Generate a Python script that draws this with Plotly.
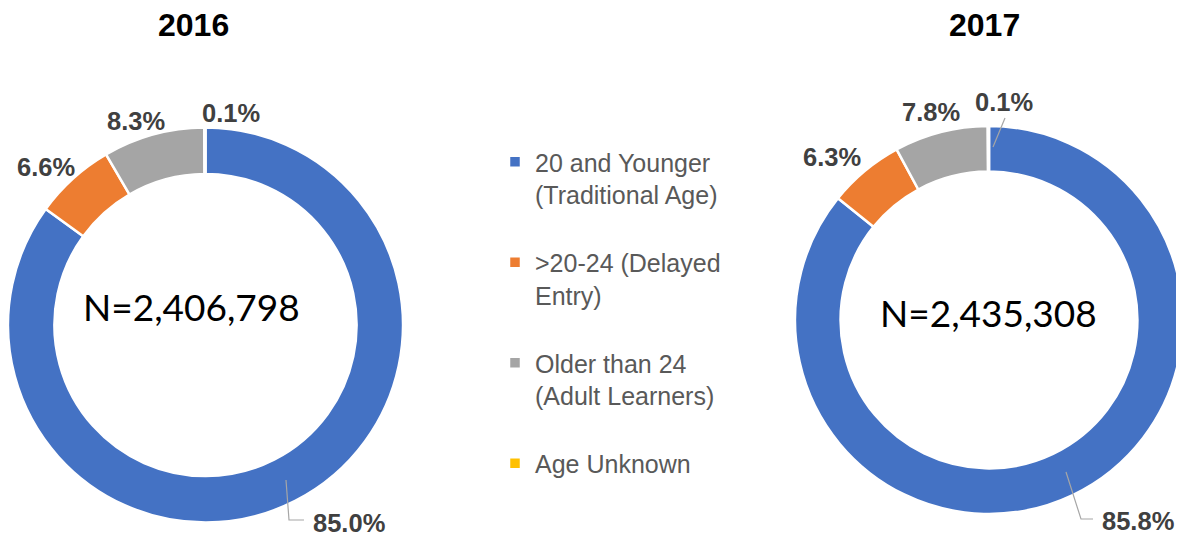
import plotly.graph_objects as go

# ---- data ----
categories = ["20 and Younger<br>(Traditional Age)", ">20-24 (Delayed<br>Entry)",
              "Older than 24<br>(Adult Learners)", "Age Unknown"]
values_2016 = [85.0, 6.6, 8.3, 0.1]
values_2017 = [85.8, 6.3, 7.8, 0.1]
years = ["2016", "2017"]
totals = ["N=2,406,798", "N=2,435,308"]
colors = ["#4472C4", "#ED7D31", "#A5A5A5", "#FFC000"]

# page is 1184x537; the html body adds an 8px margin, so the figure is smaller
O = 8
W, H = 1184 - O, 537 - O

def px(x):
    return min(max((x - O) / W, 0), 1)

def py(y):
    return min(max(1 - (y - O) / H, 0), 1)

# pie geometry (page pixels): center x, center y, radius
geo = [(205, 325, 198), (989, 320, 194)]

legend_names = [c + "<br> " if i < len(categories) - 1 else c for i, c in enumerate(categories)]

fig = go.Figure()
for k, (vals, (cx, cy, r)) in enumerate(zip([values_2016, values_2017], geo)):
    fig.add_trace(go.Pie(
        labels=legend_names, values=vals, sort=False, direction="clockwise", rotation=0,
        hole=0.765, textinfo="none", hoverinfo="label+percent",
        marker=dict(colors=colors, line=dict(color="white", width=2.5)),
        domain=dict(x=[px(cx - r), px(cx + r)], y=[py(cy + r), py(cy - r)]),
        showlegend=(k == 0),
    ))

# label positions (page pixel centers) per chart, same order as categories
label_pos = [
    [(349, 523), (46, 167), (136, 121), (231, 113)],
    [(1138, 521), (832, 157), (931, 112), (1004, 102)],
]
annotations = []
for vals, pos in zip([values_2016, values_2017], label_pos):
    for v, (x, y) in zip(vals, pos):
        annotations.append(dict(x=px(x), y=py(y), xref="paper", yref="paper",
                                text=f"<b>{v:.1f}%</b>", showarrow=False,
                                font=dict(family="Liberation Sans, Arial", size=25.5, color="#404040"),
                                xanchor="center", yanchor="middle"))
# titles
for t, (x, y) in zip(years, [(193, 25), (985, 25)]):
    annotations.append(dict(x=px(x), y=py(y), xref="paper", yref="paper", text=f"<b>{t}</b>",
                            showarrow=False, font=dict(family="Liberation Sans, Arial", size=32, color="#000000"),
                            xanchor="center", yanchor="middle"))
# totals
for t, (x, y) in zip(totals, [(191, 306), (988, 312)]):
    annotations.append(dict(x=px(x), y=py(y), xref="paper", yref="paper", text=t,
                            showarrow=False, font=dict(family="Lato, Liberation Sans", size=37, color="#000000"),
                            xanchor="center", yanchor="middle"))

# leader lines
leaders = [
    [(286, 480), (289, 520), (304, 520)],
    [(1066, 472), (1081, 519), (1093, 519)],
    [(993, 147), (1005, 118)],
]
shapes = []
for pts in leaders:
    path = "M " + " L ".join(f"{px(x):.5f},{py(y):.5f}" for x, y in pts)
    shapes.append(dict(type="path", path=path, xref="paper", yref="paper",
                       line=dict(color="#A6A6A6", width=1.2)))

fig.update_layout(
    width=W, height=H, margin=dict(l=0, r=0, t=0, b=0),
    paper_bgcolor="white", plot_bgcolor="white",
    annotations=annotations, shapes=shapes,
    legend=dict(x=px(495), y=py(139), xanchor="left", yanchor="top", valign="top",
                font=dict(family="Liberation Sans, Arial", size=25, color="#595959"),
                bgcolor="rgba(0,0,0,0)", itemclick=False, itemdoubleclick=False),
)

fig.write_html("out.html")
